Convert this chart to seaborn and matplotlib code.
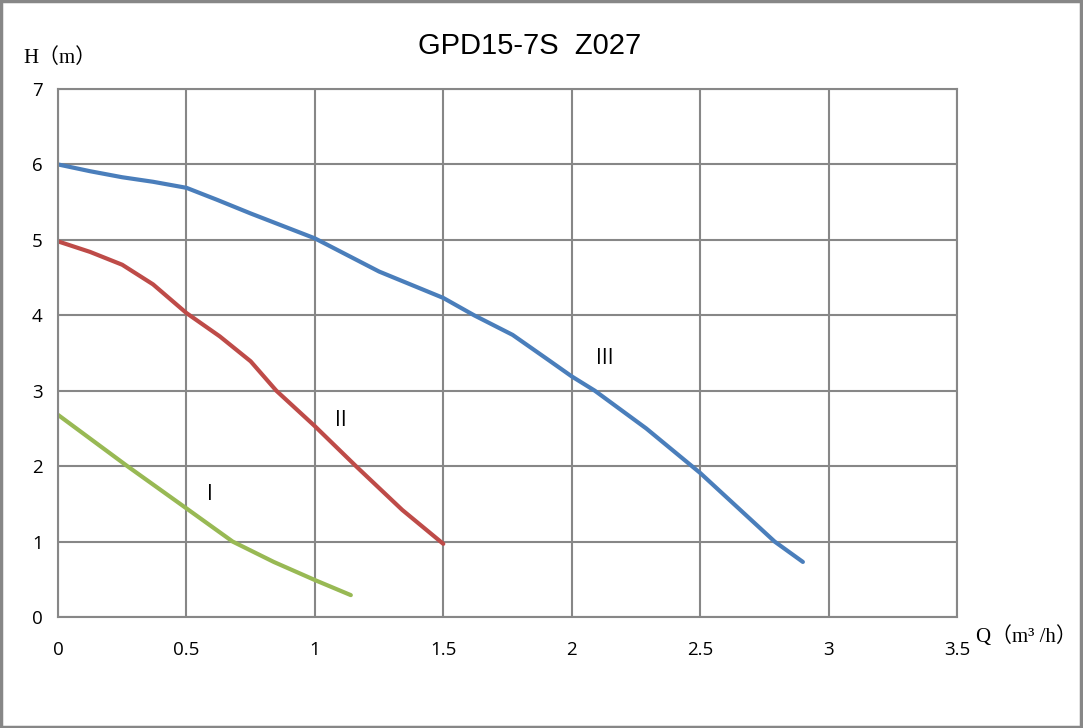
import numpy as np
import pandas as pd
import matplotlib
matplotlib.use("Agg")
import matplotlib.pyplot as plt
import seaborn as sns
from matplotlib.patches import Rectangle

sns.set_style("white")
plt.rcParams['font.family'] = ['Open Sans', 'DejaVu Sans']
plt.rcParams['text.color'] = 'black'
plt.rcParams['xtick.color'] = 'black'
plt.rcParams['ytick.color'] = 'black'

# curve data
q_III = [0, 0.125, 0.25, 0.37, 0.5, 0.62, 0.75, 1.0, 1.25, 1.5, 1.62, 1.77, 1.9,
         2.0, 2.09, 2.29, 2.5, 2.79, 2.9]
h_III = [6.0, 5.91, 5.83, 5.77, 5.69, 5.53, 5.35, 5.02, 4.58, 4.23, 4.0, 3.74, 3.43,
         3.19, 3.0, 2.5, 1.91, 1.0, 0.73]
q_II = [0, 0.125, 0.25, 0.37, 0.5, 0.63, 0.75, 0.85, 1.0, 1.16, 1.34, 1.5]
h_II = [4.98, 4.84, 4.67, 4.41, 4.03, 3.72, 3.39, 3.0, 2.53, 2.0, 1.42, 0.97]
q_I = [0, 0.27, 0.5, 0.68, 0.84, 1.0, 1.14]
h_I = [2.68, 2.0, 1.44, 1.0, 0.73, 0.49, 0.29]

speeds = ['I', 'II', 'III']
colors = {'I': '#98B954', 'II': '#BE4B48', 'III': '#4A7EBB'}
label_pos = {'I': (0.59, 1.62), 'II': (1.1, 2.6), 'III': (2.13, 3.43)}

df = pd.concat([
    pd.DataFrame({'Q': q_I, 'H': h_I, 'speed': 'I'}),
    pd.DataFrame({'Q': q_II, 'H': h_II, 'speed': 'II'}),
    pd.DataFrame({'Q': q_III, 'H': h_III, 'speed': 'III'}),
])

fig = plt.figure(figsize=(10.83, 7.28), dpi=100)
ax = fig.add_axes([58/1083, 1-617/728, 899/1083, 528/728])

line_kw = dict(solid_capstyle='round', solid_joinstyle='round')
sns.lineplot(data=df, x='Q', y='H', hue='speed', palette=colors, sort=False,
             estimator=None, lw=3, legend=False, ax=ax, **line_kw)

for s in speeds:
    x, y = label_pos[s]
    ax.text(x, y, s, fontsize=15, ha='center', va='center', color='black')

ax.set_xlim(0, 3.5)
ax.set_ylim(0, 7)
ax.set_xticks(np.arange(0, 3.51, 0.5))
ax.set_xticklabels(['0', '0.5', '1', '1.5', '2', '2.5', '3', '3.5'])
ax.set_yticks(range(0, 8))
ax.grid(True, color='#878787', lw=1.5)
ax.set_axisbelow(True)
for sp in ax.spines.values():
    sp.set_color('#878787')
    sp.set_linewidth(1.5)
ax.tick_params(axis='both', length=0, labelsize=13.5, labelcolor='black')
ax.tick_params(axis='x', pad=17)
ax.tick_params(axis='y', pad=11)
ax.set_xlabel('')
ax.set_ylabel('')

fig.text(530/1083, 1-46/728, 'GPD15-7S  Z027', fontsize=21, ha='center', va='center',
         color='black', family=['Liberation Sans', 'DejaVu Sans'])
fig.text(23/1083, 1-58/728, 'H（m）', fontsize=15, ha='left', va='center', color='black',
         family=['Liberation Serif', 'Noto Sans CJK SC', 'DejaVu Serif'])
fig.text(976/1083, 1-637/728, 'Q（m³ /h）', fontsize=15, ha='left', va='center',
         color='black', family=['Liberation Serif', 'Noto Sans CJK SC', 'DejaVu Serif'])

fig.patches.append(Rectangle((0.001, 0.002), 0.997, 0.996, transform=fig.transFigure,
                             fill=False, edgecolor='#878787', lw=2.5))

fig.savefig('out.png', dpi=100)
